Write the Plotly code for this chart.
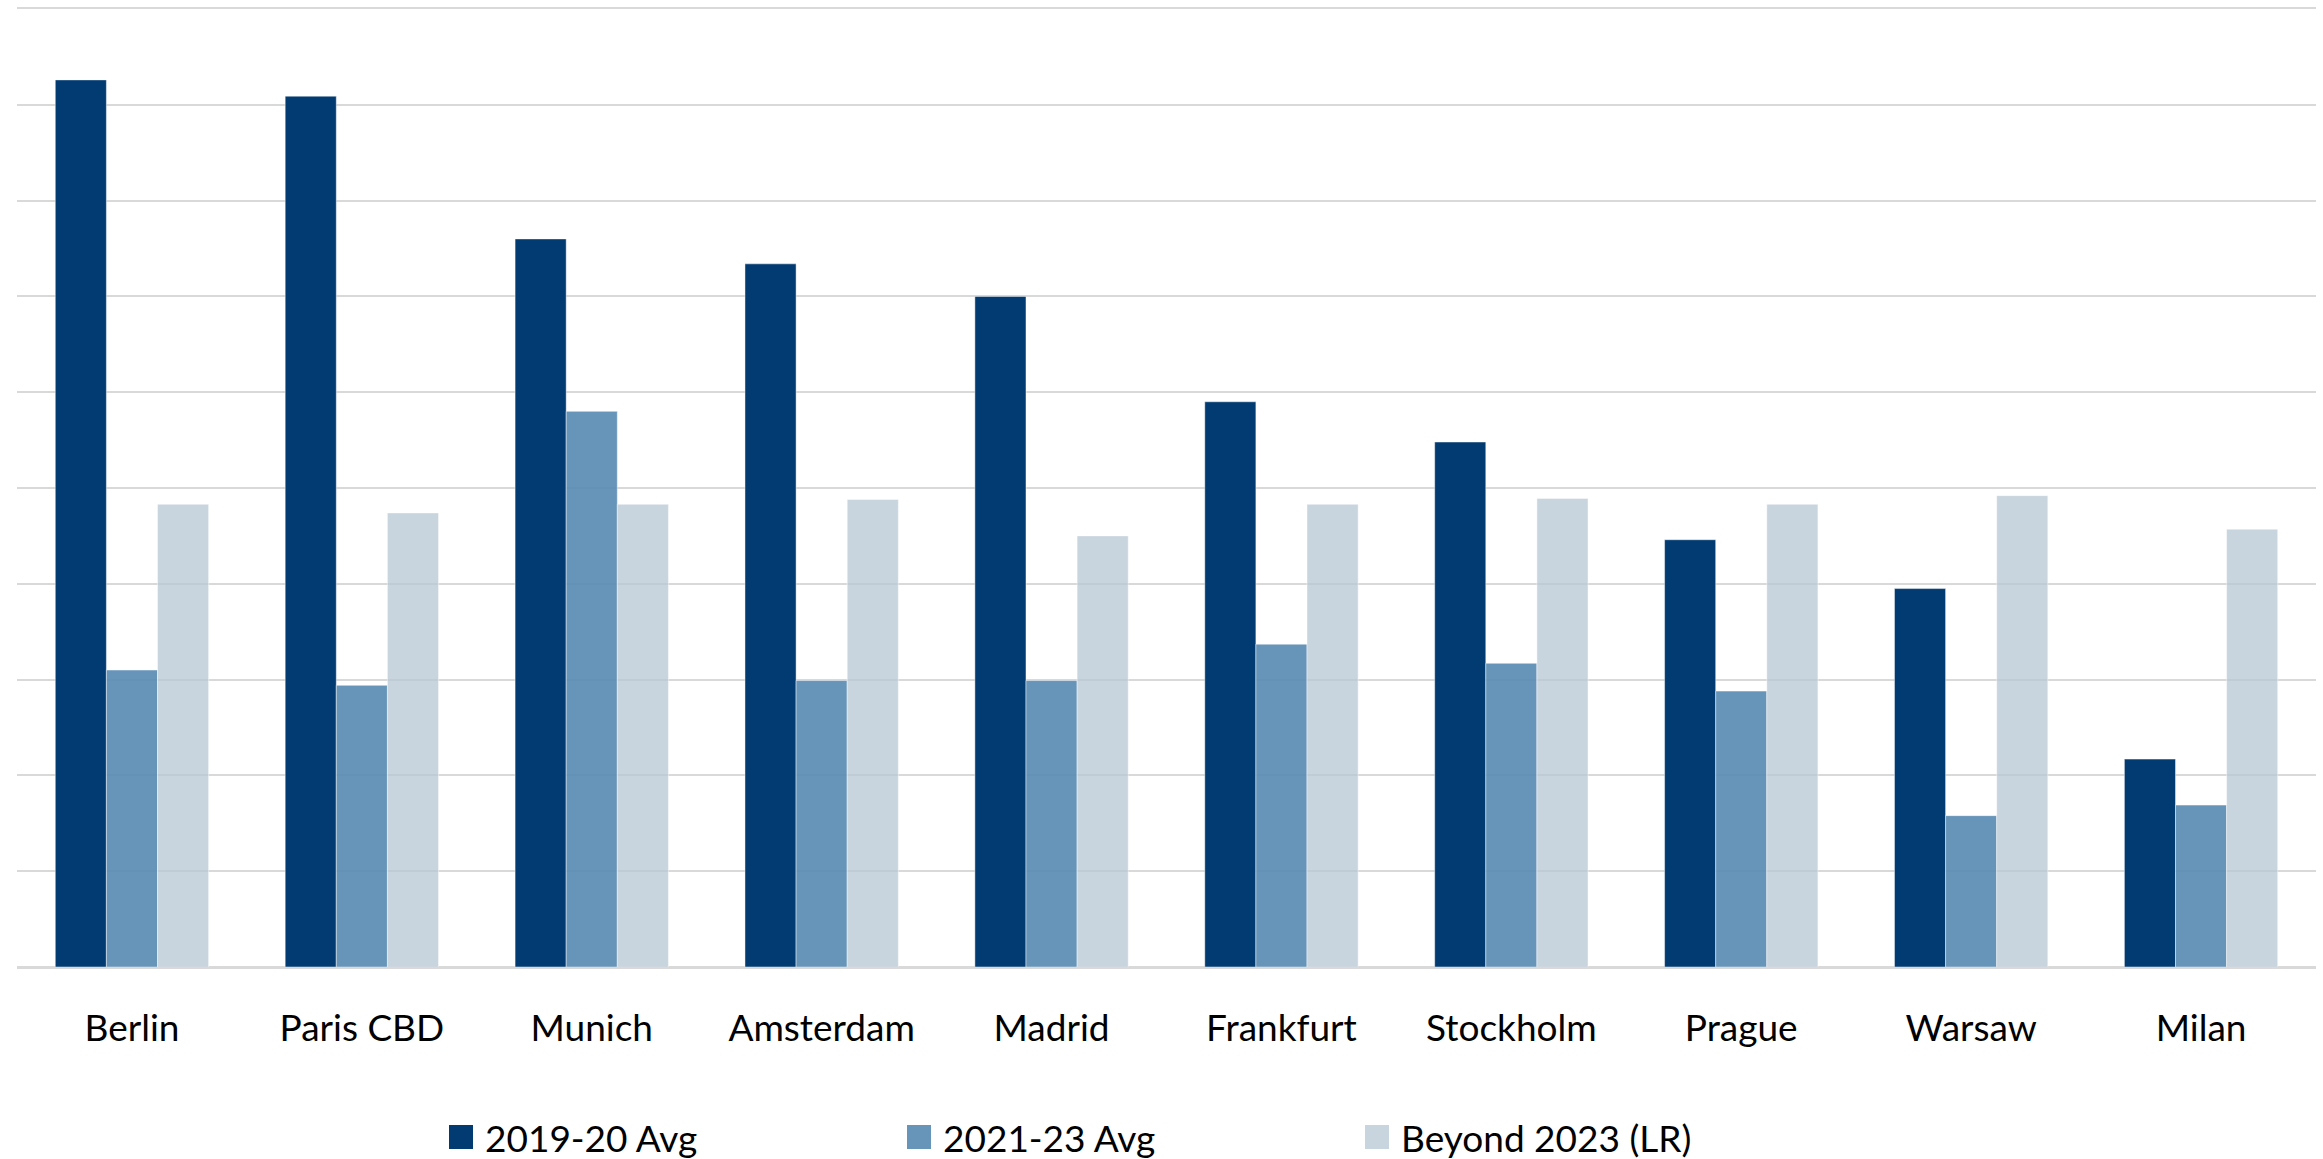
import plotly.graph_objects as go

# Prime office markets and the three averaging windows
cities = ["Berlin", "Paris CBD", "Munich", "Amsterdam", "Madrid",
          "Frankfurt", "Stockholm", "Prague", "Warsaw", "Milan"]
avg_2019_20 = [9.26, 9.09, 7.60, 7.34, 7.00, 5.90, 5.48, 4.46, 3.95, 2.17]
avg_2021_23 = [3.10, 2.94, 5.80, 2.99, 2.99, 3.37, 3.17, 2.88, 1.58, 1.69]
beyond_2023 = [4.83, 4.74, 4.83, 4.88, 4.50, 4.83, 4.89, 4.83, 4.92, 4.57]

series_names = ["2019-20 Avg", "2021-23 Avg", "Beyond 2023 (LR)"]
series_values = [avg_2019_20, avg_2021_23, beyond_2023]
series_fill = ["rgb(2,59,113)", "rgba(86,137,177,0.9)", "rgba(182,198,211,0.75)"]
legend_swatch = ["rgb(2,59,113)", "rgb(103,149,185)", "rgb(200,212,222)"]

W, H = 2323, 1159
M_L, M_R, M_T, M_B = 17, 7, 9, 192
PLOT_W = W - M_L - M_R
PLOT_H = H - M_T - M_B
FONT = "Lato, 'Open Sans', sans-serif"


def px_x(px):
    return (px - M_L) / PLOT_W


def px_y(py):
    return (H - M_B - py) / PLOT_H


fig = go.Figure()
for name, vals, col in zip(series_names, series_values, series_fill):
    fig.add_trace(go.Bar(
        x=cities, y=vals, name=name, showlegend=False,
        marker=dict(color=col, line=dict(color="rgba(255,255,255,0.45)", width=1)),
    ))

# Legend row drawn below the category labels
LEG_X0 = 449
LEG_STEP = 458
LEG_CY = 1137
SW = 24
shapes = []
annotations = []
for i, (name, col) in enumerate(zip(series_names, legend_swatch)):
    x0 = LEG_X0 + i * LEG_STEP
    shapes.append(dict(type="rect", xref="paper", yref="paper",
                       x0=px_x(x0), x1=px_x(x0 + SW),
                       y0=px_y(LEG_CY + SW / 2), y1=px_y(LEG_CY - SW / 2),
                       fillcolor=col, line=dict(width=0)))
    annotations.append(dict(xref="paper", yref="paper", x=px_x(x0 + SW + 10),
                            y=px_y(LEG_CY), xanchor="left", yanchor="middle",
                            text=name, showarrow=False,
                            font=dict(family=FONT, size=37, color="#000000")))

fig.update_layout(
    width=W, height=H,
    margin=dict(l=M_L, r=M_R, t=M_T, b=M_B, pad=0),
    paper_bgcolor="white", plot_bgcolor="white",
    barmode="group", bargap=0.333, bargroupgap=0,
    font=dict(family=FONT, size=37, color="#000000"),
    shapes=shapes, annotations=annotations,
    showlegend=False,
)
fig.update_xaxes(
    showgrid=False, ticks="",
    showline=True, mirror=True, linecolor="#d9d9d9", linewidth=2,
    tickfont=dict(family=FONT, size=37, color="#000000"),
    ticklabelstandoff=28,
)
fig.update_yaxes(
    range=[0, 10], dtick=1, showticklabels=False, ticks="",
    showgrid=True, gridcolor="#d9d9d9", gridwidth=2,
    zeroline=True, zerolinecolor="#d9d9d9", zerolinewidth=2,
    showline=False,
)

fig.write_html("out.html")
